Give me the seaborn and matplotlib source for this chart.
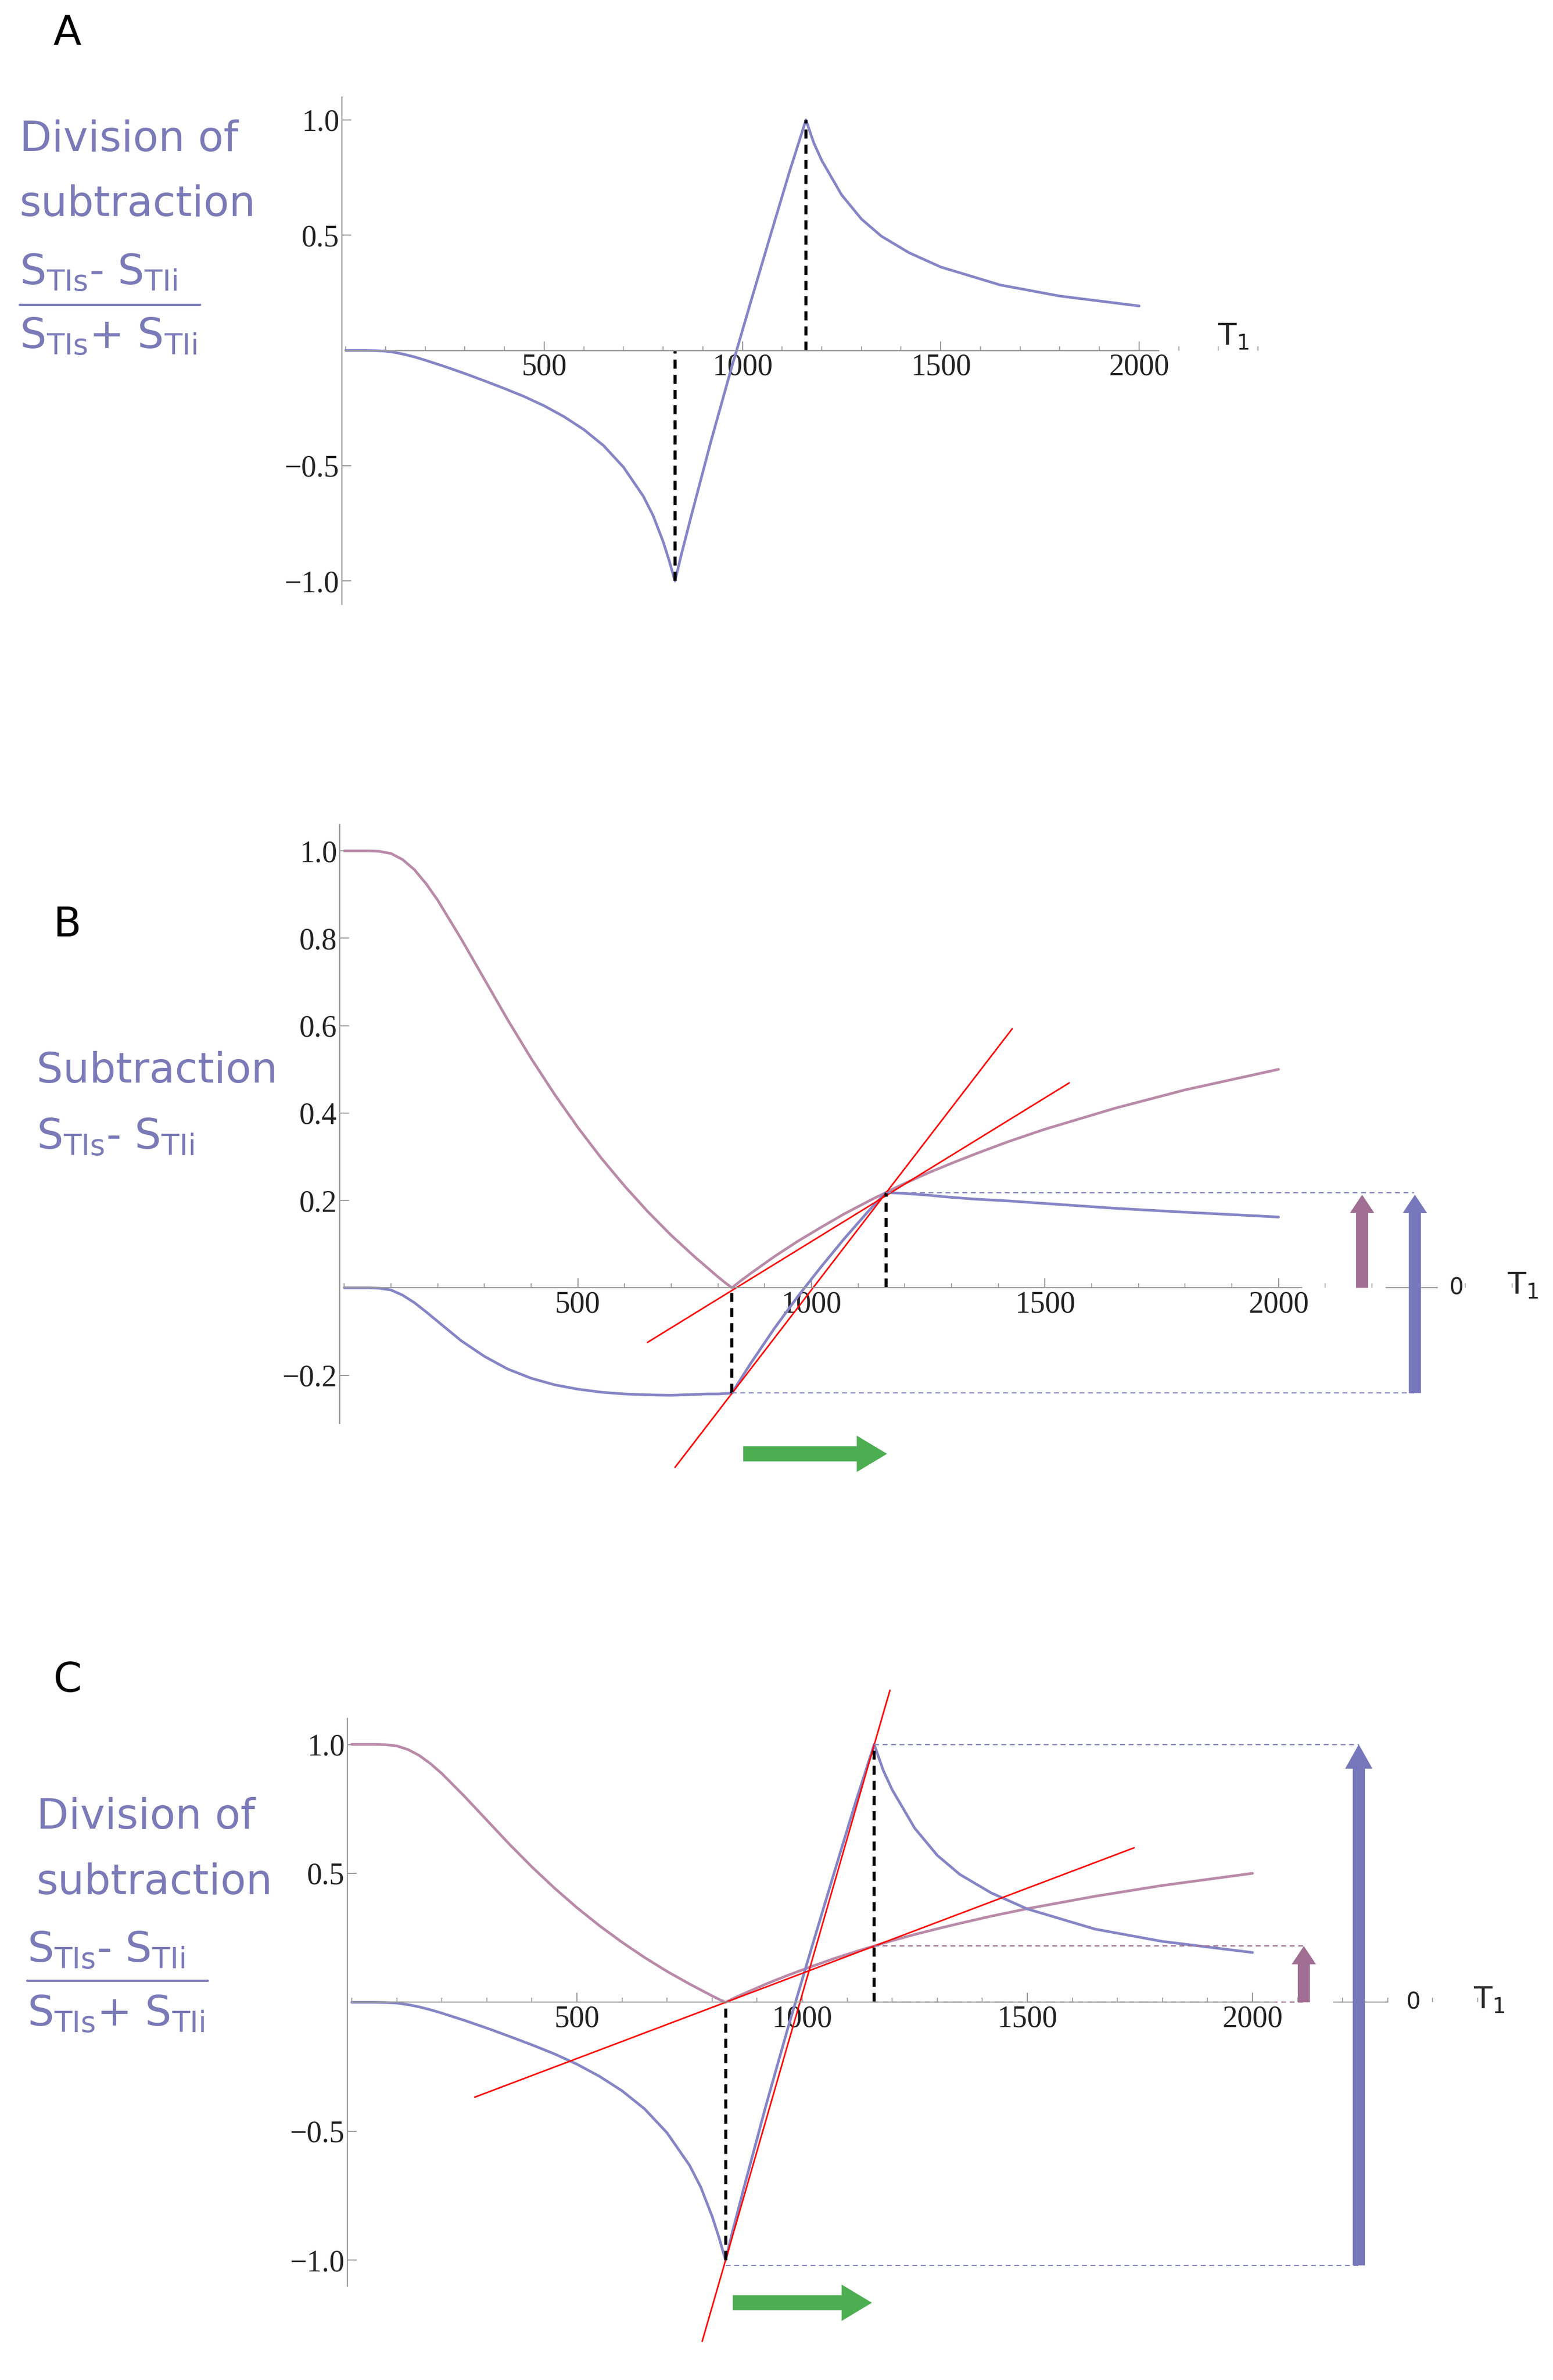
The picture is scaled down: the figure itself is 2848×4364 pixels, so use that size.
import matplotlib
matplotlib.use("Agg")
import matplotlib.pyplot as plt
import seaborn as sns
import pandas as pd
from matplotlib.ticker import MultipleLocator

# ---------------- data ----------------
T1 = [0, 25, 50, 75, 100, 125, 150, 175, 200, 250, 300, 350, 400, 450, 500, 550, 600, 650, 700,
      750, 775, 800, 815, 830, 845, 870, 920, 970, 1020, 1070, 1120, 1140, 1160, 1180, 1200,
      1250, 1300, 1350, 1420, 1500, 1650, 1800, 2000]
S_single = [1.0, 1.0, 1.0, 0.999, 0.994, 0.980, 0.957, 0.925, 0.887, 0.799, 0.706, 0.613, 0.525,
            0.443, 0.367, 0.297, 0.233, 0.174, 0.120, 0.071, 0.048, 0.025, 0.012, 0.0, 0.013,
            0.033, 0.071, 0.106, 0.138, 0.169, 0.197, 0.208, 0.218, 0.229, 0.239, 0.263, 0.285,
            0.306, 0.334, 0.363, 0.411, 0.453, 0.500]
S_sub = [0.0, 0.0, 0.0, -0.001, -0.005, -0.017, -0.034, -0.055, -0.077, -0.121, -0.157, -0.186,
         -0.207, -0.222, -0.232, -0.239, -0.243, -0.245, -0.246, -0.244, -0.243, -0.243, -0.242,
         -0.241, -0.215, -0.173, -0.094, -0.021, 0.047, 0.112, 0.173, 0.196, 0.218, 0.217, 0.216,
         0.212, 0.207, 0.203, 0.199, 0.193, 0.182, 0.173, 0.162]
S_div = [0.0, 0.0, 0.0, -0.001, -0.003, -0.009, -0.018, -0.029, -0.042, -0.070, -0.100, -0.132,
         -0.165, -0.200, -0.240, -0.287, -0.343, -0.413, -0.506, -0.632, -0.717, -0.829, -0.910,
         -1.0, -0.892, -0.724, -0.398, -0.090, 0.205, 0.496, 0.783, 0.891, 1.0, 0.900, 0.824,
         0.675, 0.570, 0.496, 0.424, 0.362, 0.284, 0.236, 0.193]
T_null1, T_null2 = 830, 1160
xticks = [500, 1000, 1500, 2000]
yticks_A = [-1.0, -0.5, 0.5, 1.0]
yticks_B = [-0.2, 0.2, 0.4, 0.6, 0.8, 1.0]
yticks_C = [-1.0, -0.5, 0.5, 1.0]
# red chord lines: (x0, y0, x1, y1)
red_B = [(649, -0.125, 1552, 0.469), (708, -0.411, 1430, 0.593)]
red_C = [(273, -0.368, 1737, 0.599), (778, -1.315, 1195, 1.21)]

df = pd.DataFrame({"T1": T1, "single": S_single, "sub": S_sub, "div": S_div})

BLUE = "#8585c6"
PINK = "#b98aa8"
ARROW_BLUE = "#7777bb"
ARROW_PINK = "#a06e92"
GREEN = "#4cae50"
LBL = "#7a7ab8"
TICKF = "Liberation Serif"

sns.set_style("ticks")
fig = plt.figure(figsize=(28.48, 43.64), dpi=100)


def style_axes(ax, yt, xmax_spine=2050):
    ax.spines["top"].set_visible(False)
    ax.spines["right"].set_visible(False)
    ax.spines["bottom"].set_position(("data", 0))
    ax.spines["bottom"].set_bounds(0, xmax_spine)
    for s in ("left", "bottom"):
        ax.spines[s].set_color("#999999")
        ax.spines[s].set_linewidth(1.6)
    ax.set_xticks(xticks)
    ax.set_xticklabels([str(v) for v in xticks], fontsize=40, family=TICKF, color="#222222")
    ax.set_yticks(yt)
    ax.set_yticklabels([f"{v:.1f}".replace("-", "\u2212") for v in yt], fontsize=40,
                       family=TICKF, color="#222222")
    ax.xaxis.set_minor_locator(MultipleLocator(100))
    ax.tick_params(axis="both", which="major", direction="in", length=12, width=1.5, color="#999999")
    ax.tick_params(axis="both", which="minor", direction="in", length=6, width=1.2, color="#999999")
    ax.set_xlabel("")
    ax.set_ylabel("")


def vdash(ax, x, y0, y1):
    ax.plot([x, x], [y0, y1], ls=(0, (3, 2)), color="black", lw=4)


def hdash(ax, x0, x1, y, c):
    ax.plot([x0, x1], [y, y], ls=(0, (4, 3)), color=c, lw=1.6, clip_on=False)


def arrow(ax, x, y0, y1, c, tw=0.4, hw=0.8, hl=0.6):
    ax.annotate("", xy=(x, y1), xytext=(x, y0),
                arrowprops=dict(arrowstyle=f"simple,tail_width={tw},head_width={hw},head_length={hl}",
                                color=c, mutation_scale=40, lw=0, shrinkA=0, shrinkB=0),
                annotation_clip=False)


def harrow(ax, x0, x1, y):
    ax.annotate("", xy=(x1, y), xytext=(x0, y),
                arrowprops=dict(arrowstyle="simple,tail_width=0.5,head_width=1.2,head_length=1.0",
                                color=GREEN, mutation_scale=40, lw=0, shrinkA=0, shrinkB=0),
                annotation_clip=False)


# ---------------- Panel A ----------------
axA = fig.add_axes([0.2201, 0.7462, 0.590, 0.2131])
sns.lineplot(data=df, x="T1", y="div", ax=axA, color=BLUE, lw=3.5)
axA.set_xlim(-10, 2300)
axA.set_ylim(-1.1, 1.1)
style_axes(axA, yticks_A)
vdash(axA, T_null1, -1.0, 0)
vdash(axA, T_null2, 0, 1.0)
axA.text(2198, 0.06, "T$_1$", fontsize=40, va="center", ha="left", family="DejaVu Sans")

# ---------------- Panel B ----------------
axB = fig.add_axes([0.2187, 0.402, 0.782, 0.2515])
sns.lineplot(data=df, x="T1", y="single", ax=axB, color=PINK, lw=3.5)
sns.lineplot(data=df, x="T1", y="sub", ax=axB, color=BLUE, lw=3.5)
axB.set_xlim(-10, 2590)
axB.set_ylim(-0.31, 1.06)
style_axes(axB, yticks_B)
for x0, y0, x1, y1 in red_B:
    axB.plot([x0, x1], [y0, y1], color="red", lw=2, clip_on=False)
vdash(axB, T_null1, S_sub[T1.index(T_null1)], 0)
vdash(axB, T_null2, 0, S_sub[T1.index(T_null2)])
yhi = S_sub[T1.index(T_null2)]
ylo = S_sub[T1.index(T_null1)]
hdash(axB, T_null2, 2290, yhi, BLUE)
hdash(axB, T_null1, 2290, ylo, BLUE)
arrow(axB, 2179, 0, yhi - 0.005, ARROW_PINK)
arrow(axB, 2292, ylo, yhi - 0.005, ARROW_BLUE)
axB.plot([2230, 2340], [0, 0], color="#999999", lw=1.6, clip_on=False)
axB.text(2380, 0, "0", fontsize=30, va="center", ha="center", family="DejaVu Sans")
axB.text(2490, 0.005, "T$_1$", fontsize=40, va="center", ha="left", family="DejaVu Sans")
harrow(axB, 854, 1162, -0.38)

# ---------------- Panel C ----------------
axC = fig.add_axes([0.2236, 0.0395, 0.754, 0.2384])
sns.lineplot(data=df, x="T1", y="single", ax=axC, color=PINK, lw=3.5)
sns.lineplot(data=df, x="T1", y="div", ax=axC, color=BLUE, lw=3.5)
axC.set_xlim(-10, 2590)
axC.set_ylim(-1.1, 1.1)
style_axes(axC, yticks_C)
for x0, y0, x1, y1 in red_C:
    axC.plot([x0, x1], [y0, y1], color="red", lw=2, clip_on=False)
vdash(axC, T_null1, -1.0, 0)
vdash(axC, T_null2, 0, 1.0)
ypk = S_single[T1.index(T_null2)]
hdash(axC, T_null2, 2236, 1.0, BLUE)
hdash(axC, T_null1, 2236, -1.02, BLUE)
hdash(axC, T_null2, 2114, ypk, ARROW_PINK)
hdash(axC, T_null2, 2114, 0, ARROW_PINK)
arrow(axC, 2114, 0, ypk, ARROW_PINK)
arrow(axC, 2236, -1.02, 1.0, ARROW_BLUE, hw=0.9, hl=0.8)
axC.plot([2180, 2300], [0, 0], color="#999999", lw=1.6, clip_on=False)
axC.text(2357, 0, "0", fontsize=30, va="center", ha="center", family="DejaVu Sans")
axC.text(2490, 0.01, "T$_1$", fontsize=40, va="center", ha="left", family="DejaVu Sans")
harrow(axC, 846, 1155, -1.165)

# ---------------- text labels (figure coords from 1024x1569 reference) ----------------
W, H = 1024.0, 1569.0


def ftext(x, y, s, **kw):
    fig.text(x / W, 1 - y / H, s, **kw)

lab = dict(fontsize=55, color=LBL, family="DejaVu Sans", va="center", ha="left")
num = "S$_{\\mathregular{TIs}}$- S$_{\\mathregular{TIi}}$"
den = "S$_{\\mathregular{TIs}}$+ S$_{\\mathregular{TIi}}$"

for letter, y in (("A", 22), ("B", 610), ("C", 1108)):
    ftext(35, y, letter, fontsize=54, color="black", family="DejaVu Sans", va="center", ha="left")

# A label
ftext(13, 92, "Division of", **lab)
ftext(13, 135, "subtraction", **lab)
ftext(13, 180, num, **lab)
ftext(13, 222, den, **lab)
fig.add_artist(plt.Line2D([13 / W, 132 / W], [1 - 201 / H, 1 - 201 / H], color=LBL, lw=3))

# B label
ftext(24, 706, "Subtraction", **lab)
ftext(24, 750, num, **lab)

# C label
ftext(24, 1198, "Division of", **lab)
ftext(24, 1241, "subtraction", **lab)
ftext(18, 1286, num, **lab)
ftext(18, 1328, den, **lab)
fig.add_artist(plt.Line2D([18 / W, 137 / W], [1 - 1306 / H, 1 - 1306 / H], color=LBL, lw=3))

fig.savefig("out.png", dpi=100, facecolor="white")
